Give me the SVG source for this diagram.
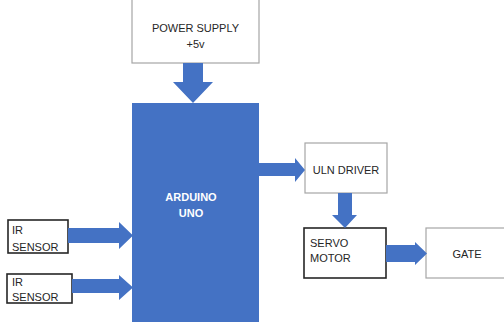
<svg xmlns="http://www.w3.org/2000/svg" width="504" height="322" viewBox="0 0 504 322">
<style>
.box{fill:#fff;stroke:#a6a6a6;stroke-width:1.2}
.dbox{fill:#fff;stroke:#262626;stroke-width:1.6}
.arr{fill:#4472c4}
.t{font-family:"Liberation Sans",Arial,sans-serif;font-size:11px;fill:#262626}
.w{font-family:"Liberation Sans",Arial,sans-serif;font-size:11px;fill:#fff;font-weight:bold}
</style>
<rect width="504" height="322" fill="#fff"/>
<g id="power">
<rect class="box" x="132" y="-2" width="127" height="65"/>
<text class="t" x="195.5" y="32" text-anchor="middle">POWER SUPPLY</text>
<text class="t" x="195.5" y="48" text-anchor="middle">+5v</text>
</g>
<g id="arduino">
<rect x="132" y="103" width="127" height="222" fill="#4472c4"/>
<text class="w" x="191" y="201" text-anchor="middle">ARDUINO</text>
<text class="w" x="191" y="217" text-anchor="middle">UNO</text>
</g>
<g id="uln">
<rect class="box" x="305" y="143" width="82" height="50"/>
<text class="t" x="346" y="174" text-anchor="middle">ULN DRIVER</text>
</g>
<g id="servo">
<rect class="dbox" x="304" y="228" width="82" height="50"/>
<text class="t" x="310" y="247">SERVO</text>
<text class="t" x="310" y="262">MOTOR</text>
</g>
<g id="gate">
<rect class="box" x="426" y="228" width="80" height="50"/>
<text class="t" x="467" y="258" text-anchor="middle">GATE</text>
</g>
<g id="ir1">
<rect class="dbox" x="8" y="220" width="60" height="33"/>
<text class="t" x="12" y="234">IR</text>
<text class="t" x="12" y="251">SENSOR</text>
</g>
<g id="ir2">
<rect class="dbox" x="7" y="274" width="65" height="29"/>
<text class="t" x="12" y="286">IR</text>
<text class="t" x="12" y="301">SENSOR</text>
</g>
<g id="connectors">
<polygon class="arr" points="183,63 203,63 203,82 213,82 193,103 173,82 183,82"/>
<polygon class="arr" points="259,163 295,163 295,158 305,170 295,182 295,176 259,176"/>
<polygon class="arr" points="338,193 352,193 352,215 357,215 345,228 332,215 338,215"/>
<polygon class="arr" points="386,245 415,245 415,242 427,253.5 415,265 415,262 386,262"/>
<polygon class="arr" points="68,228 119,228 119,222 133,235.5 119,249 119,243 68,243"/>
<polygon class="arr" points="72,279 119,279 119,275 133,287.5 119,300 119,293 72,293"/>
</g>
</svg>
